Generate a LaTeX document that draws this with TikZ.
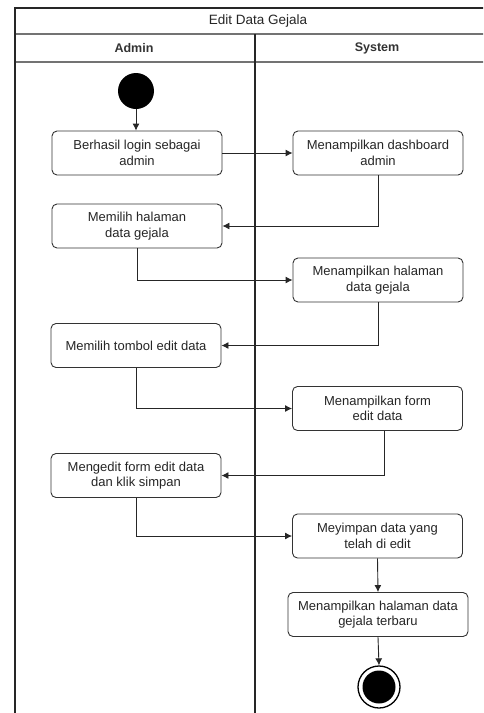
\documentclass[tikz,border=0pt]{standalone}
\usepackage{fontspec}
\setmainfont{Liberation Sans}
\usetikzlibrary{arrows.meta}
\begin{document}
\begin{tikzpicture}[x=1pt,y=-1pt,
  lane/.style={draw=black!85, line width=1.3pt},
  sep/.style={draw=black!55, line width=1.6pt},
  act/.style={draw=black!80, line width=0.9pt, rounded corners=5pt, fill=white,
    minimum width=170pt, minimum height=44pt, align=center, text=black!85,
    font=\fontsize{13}{15.5}\selectfont, inner sep=2pt},
  flow/.style={draw=black!85, line width=0.9pt, -{Latex[length=7pt,width=7pt]}},
  hdr/.style={font=\bfseries\fontsize{12.5}{15}\selectfont, text=black!80},
  ttl/.style={font=\fontsize{13.5}{16}\selectfont, text=black!85}
]
\useasboundingbox (0,0) rectangle (483,713);
\fill[white] (0,0) rectangle (483,713);
\begin{scope}
\clip (0,0) rectangle (483,713);
% swimlane frame
\draw[sep] (15,34) -- (497,34);
\draw[sep] (15,62) -- (497,62);
\draw[lane] (15,720) -- (15,8) -- (497,8) -- (497,720);
\draw[lane] (255,34) -- (255,720);
\end{scope}
\node[ttl] (title) at (258,21) {Edit Data Gejala};
\node[hdr] (admin) at (134,48) {Admin};
\node[hdr] (system) at (377,48) {System};

% start and end
\fill (136,91) circle (18pt);
\coordinate (start) at (136,109);

\node[act] (b1) at (137,153) {Berhasil login sebagai\\admin};
\node[act] (b2) at (378,153) {Menampilkan dashboard\\admin};
\node[act] (b3) at (137,226) {Memilih halaman\\data gejala};
\node[act] (b4) at (378,280) {Menampilkan halaman\\data gejala};
\node[act] (b5) at (136,345.5) {Memilih tombol edit data};
\node[act] (b6) at (377.5,408.5) {Menampilkan form\\edit data};
\node[act] (b7) at (136,475.5) {Mengedit form edit data\\dan klik simpan};
\node[act] (b8) at (377.5,536) {Meyimpan data yang\\telah di edit};
\node[act, minimum width=180pt] (b9) at (378,614.5) {Menampilkan halaman data\\gejala terbaru};

\node[circle, draw=black, line width=1.3pt, minimum size=42pt, inner sep=0pt] (end) at (379,687) {};
\fill (end.center) circle (16.5pt);

% control flow
\draw[flow] (start) -- (start |- b1.north);
\draw[flow] (b1.east) -- (b2.west);
\draw[flow] (b2.south) |- (b3.east);
\draw[flow] (b3.south) |- (b4.west);
\draw[flow] (b4.south) |- (b5.east);
\draw[flow] (b5.south) |- (b6.west);
\draw[flow] ([xshift=7pt]b6.south) |- (b7.east);
\draw[flow] (b7.south) |- (b8.west);
\draw[flow] (b8.south) -- (b9.north);
\draw[flow] (b9.south) -- (end.north);
\end{tikzpicture}
\end{document}
